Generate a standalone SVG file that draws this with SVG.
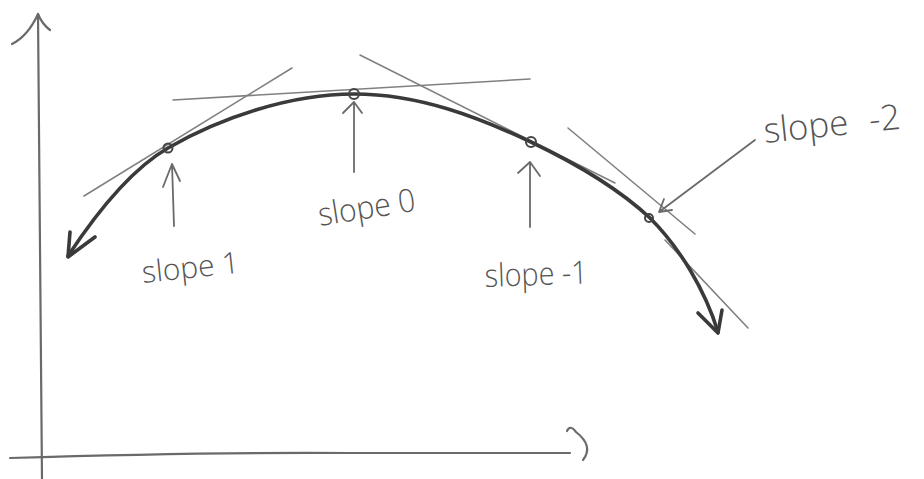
<svg xmlns="http://www.w3.org/2000/svg" width="924" height="479" viewBox="0 0 924 479">
<style>
.axis{fill:none;stroke:#6a6a6a;stroke-width:2.2;stroke-linecap:round;stroke-linejoin:round}
.curve{fill:none;stroke:#3a3a3a;stroke-width:3.6;stroke-linecap:round;stroke-linejoin:round}
.tan{fill:none;stroke:#808080;stroke-width:1.6;stroke-linecap:round}
.ptr{fill:none;stroke:#6a6a6a;stroke-width:1.8;stroke-linecap:round;stroke-linejoin:round}
.pt{fill:none;stroke:#444;stroke-width:2}
.lbl{font-family:"Open Sans","Liberation Sans",sans-serif;font-weight:300;font-size:32px;fill:#555}
</style>
<rect width="924" height="479" fill="#fff"/>
<g id="axes">
  <path class="axis" d="M38,14 Q39,200 42,479"/>
  <path class="axis" d="M12,44 Q28,36 38,14 Q42,24 50,30"/>
  <path class="axis" d="M10,458 Q200,452 350,453 L570,453"/>
  <path class="axis" d="M567,431 Q570,424 576,432 Q594,446 583,460"/>
</g>
<g id="connectors">
  <g id="tangents">
    <line class="tan" x1="84" y1="196" x2="292" y2="68"/>
    <line class="tan" x1="173" y1="100" x2="530" y2="79"/>
    <line class="tan" x1="360" y1="55" x2="615" y2="183"/>
    <line class="tan" x1="568" y1="128" x2="695" y2="234"/>
    <line class="tan" x1="665" y1="240" x2="748" y2="328"/>
  </g>
  <path id="curve" class="curve" d="M68,256 C95,215 130,170 168,148 C220,118 290,94 354,94 C420,94 480,118 531,142 C575,163 620,190 650,218 C680,248 705,290 718,332"/>
  <path class="curve" d="M70,232 L68,257 L95,237"/>
  <path class="curve" d="M698,313 L718,333 L722,310"/>
  <g id="pointers">
    <path class="ptr" d="M174,226 L172,164 M163,187 L172,164 L180,181"/>
    <path class="ptr" d="M354,172 L354,102 M343,113 L354,102 L362,113"/>
    <path class="ptr" d="M530,227 L530,162 M518,173 L530,162 L540,176"/>
    <path class="ptr" d="M755,140 L659,212 M664,199 L659,212 L672,210"/>
  </g>
</g>
<g id="points">
  <circle class="pt" cx="168" cy="148" r="4.5"/>
  <circle class="pt" cx="354" cy="94" r="5"/>
  <circle class="pt" cx="531" cy="142" r="5"/>
  <circle class="pt" cx="649" cy="218" r="4"/>
</g>
<g id="label-slope1"><text class="lbl" x="143" y="283" style="font-size:30px" transform="rotate(-6 143 283)">slope 1</text></g>
<g id="label-slope0"><text class="lbl" x="320" y="226" textLength="98" lengthAdjust="spacingAndGlyphs" transform="rotate(-9 320 226)">slope 0</text></g>
<g id="label-slope-1"><text class="lbl" x="485" y="287" textLength="103" lengthAdjust="spacingAndGlyphs" transform="rotate(-2 485 287)">slope -1</text></g>
<g id="label-slope-2"><text class="lbl" x="765" y="143" style="font-size:35px;word-spacing:12px" transform="rotate(-6 765 143)">slope -2</text></g>
</svg>
